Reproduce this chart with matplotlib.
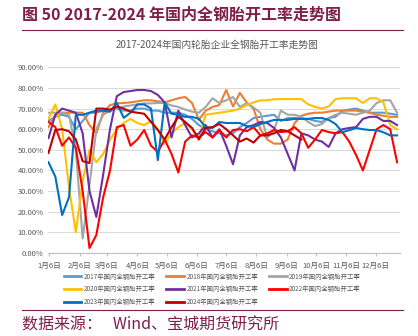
import matplotlib
matplotlib.use("Agg")
import matplotlib.pyplot as plt
import numpy as np
from matplotlib.lines import Line2D

plt.rcParams["font.family"] = ["Noto Sans CJK SC", "DejaVu Sans"]

# weekly operating rates (%), one value per week from early January
y2017 = [64, 66, 67, 66, 60, 64, 68, 68, 69, 69, 70, 69, 69, 70, 70, 69, 69, 68, 68, 68,
         67, 65, 62, 60, 59, 58, 57, 58, 61, 63, 65.4, 66, 66.5, 67, 64, 65.4, 65.5, 65,
         65, 64, 63.5, 65.4, 66, 69, 69.5, 70, 69, 68, 68, 68, 67.5, 67]
y2018 = [61, 67, 68, 68, 68, 68, 62, 58, 68, 71.7, 72.5, 72.7, 73, 73.5, 74, 74, 73.5,
         73, 74, 75, 75.6, 72.7, 64.5, 69, 70.8, 71.7, 79, 71, 77.6, 73, 70, 60, 55, 53,
         53, 55, 63, 66.5, 67.5, 68, 68, 68.5, 69, 69, 69, 69, 68.5, 68, 67, 66.5, 66, 66]
y2019 = [68, 68, 68, 67, 50, 7, 33, 60, 67, 69, 70, 71, 71.5, 72, 72.5, 72.5, 72.7, 72.7,
         71.5, 70.8, 69.5, 68.5, 68, 70.8, 75, 72.7, 74, 75.6, 70.8, 72.7, 70.5, 68, 55.7,
         59.6, 69, 67, 67, 66, 63.5, 61.5, 62.5, 65.5, 67, 68, 67.5, 67, 68, 69, 72.7, 74,
         74, 68]
y2020 = [65, 72, 60, 32, 10, 35, 50, 44, 48, 55, 60, 63, 65, 63, 62, 64, 60, 53, 58, 61,
         63, 60, 56, 67, 67.5, 68, 68.5, 69, 70, 71.7, 73, 74, 74, 74.5, 74.6, 74.6, 74.6,
         74.6, 72, 70.8, 70, 71, 74.6, 75, 75, 75, 72.7, 75, 75, 73, 62, 60]
y2021 = [55.7, 67, 70, 69, 68, 58, 30, 17.5, 38, 60, 76, 78, 78.5, 79, 79, 78.5, 76.6, 73,
         56, 69, 62, 56, 58, 62, 56, 60, 52, 43, 57, 61, 62, 63.5, 63, 60.6, 56, 48, 40,
         58, 57, 55, 54, 51.4, 58, 60, 60.6, 61, 65, 66, 66, 64, 64, 62]
y2022 = [63.5, 61, 52, 56, 51, 30, 2.4, 8.7, 27, 40, 61, 62, 52, 55, 59.6, 52, 49, 55, 48,
         39, 54, 57, 56, 58.6, 56, 59.6, 56, 59.6, 60, 59, 61, 57, 58, 59.6, 58.6, 59, 61,
         58, 51, 55, 59.6, 58.6, 58, 58.6, 54, 47.5, 40, 50, 60, 62, 60, 44]
y2023 = [44, 37, 18.4, 27, 67, 67, 68, 69, 69, 68.5, 72.7, 65.5, 68, 72, 72, 70, 45, 73,
         67.5, 67, 66, 66, 65, 61, 60.6, 63.5, 63, 63, 63, 61.5, 61, 62.5, 63.5, 64.5, 64.5,
         64.5, 65, 65, 65, 65.4, 65.4, 64.5, 62.5, 58.6, 59.5, 60.6, 60, 59.6, 59.6, 58.5,
         57, 57]
y2024 = [48.5, 59.6, 60, 59, 55, 44.5, 43.6, 70, 70, 69.5, 71, 70, 68.5, 68, 67.5, 63.5,
         59.6, 55, 61, 66, 63.5, 60.6, 55, 60.6, 61, 62.5, 60, 57, 54, 55.5, 53.5, 57, 57,
         58, 59.6, 59, 57, 55]

years = ["2017", "2018", "2019", "2020", "2021", "2022", "2023", "2024"]
series = [y2017, y2018, y2019, y2020, y2021, y2022, y2023, y2024]
colors = ["#5B9BD5", "#ED7D31", "#A5A5A5", "#FFC000", "#7030A0", "#FF0000", "#0070C0", "#C00000"]

tick_days = [6, 37, 65, 96, 126, 157, 187, 218, 249, 279, 310, 340]
tick_labels = ["1月6日", "2月6日", "3月6日", "4月6日", "5月6日", "6月6日",
               "7月6日", "8月6日", "9月6日", "10月6日", "11月6日", "12月6日"]

W, H = 418, 336
maroon = "#7F1F48"
grey_txt = "#595959"

fig = plt.figure(figsize=(W / 100, H / 100), dpi=100)

def fx(x):
    return x / W

def fy(y):
    return 1 - y / H

ax = fig.add_axes([fx(48), fy(253), fx(400) - fx(48), fy(67.3) - fy(253)])

for name, vals, c in zip(years, series, colors):
    days = 5 + 7 * np.arange(len(vals))
    ax.plot(days, np.array(vals) / 100, color=c, lw=1.5, solid_joinstyle="round")

ax.set_xlim(4.5, 365)
ax.set_ylim(0, 0.9)
ax.set_yticks(np.arange(0, 0.91, 0.1))
ax.set_yticklabels(["%.2f%%" % (v * 100) for v in np.arange(0, 0.91, 0.1)])
ax.set_xticks(tick_days)
ax.set_xticklabels(tick_labels)
ax.tick_params(axis="both", labelsize=5.5, colors=grey_txt, length=0, pad=3)
ax.tick_params(axis="x", length=2.5, color="#BFBFBF", pad=4)
ax.grid(axis="y", color="#D9D9D9", lw=0.7)
ax.set_axisbelow(True)
for s in ["top", "right", "left"]:
    ax.spines[s].set_visible(False)
ax.spines["bottom"].set_color("#BFBFBF")
ax.spines["bottom"].set_linewidth(0.8)

# legend: matplotlib fills by column, so reorder to get rows 2017-2019, 2020-2022, 2023-2024
order = [0, 3, 6, 1, 4, 7, 2, 5]
handles = [Line2D([], [], color=colors[i], lw=2) for i in order]
labels = [years[i] + "年国内全钢胎开工率" for i in order]
fig.legend(handles, labels, ncol=3, loc="upper left", bbox_to_anchor=(fx(61), fy(270)),
           frameon=False, fontsize=4.6, labelcolor=grey_txt, handlelength=2.8,
           handletextpad=0.3, columnspacing=1.8, labelspacing=0.75, borderaxespad=0)

# header, chart title, source
fig.text(fx(22), fy(15), "图 50 2017-2024 年国内全钢胎开工率走势图", fontsize=11.5,
         fontweight="bold", color=maroon, va="center", ha="left")
fig.add_artist(Line2D([fx(22), fx(403)], [fy(29.5), fy(29.5)], color=maroon, lw=0.8))
fig.text(fx(217), fy(45), "2017-2024年国内轮胎企业全钢胎开工率走势图", fontsize=7,
         color=grey_txt, va="center", ha="center")
fig.add_artist(Line2D([fx(22), fx(403)], [fy(310), fy(310)], color=maroon, lw=0.8))
fig.text(fx(22), fy(325), "数据来源：   Wind、宝城期货研究所", fontsize=11.5,
         color=maroon, va="center", ha="left")

fig.savefig("out.png", dpi=100)
